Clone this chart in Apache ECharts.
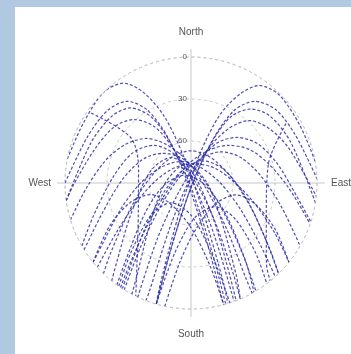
<!DOCTYPE html>
<html>
<head>
<meta charset="utf-8">
<script src="https://cdn.jsdelivr.net/npm/echarts@6/dist/echarts.min.js"></script>
<style>
  html, body { margin: 0; padding: 0; width: 351px; height: 354px; background: #b0c9e0; overflow: hidden; }
  #chart { position: absolute; left: 15px; top: 7px; width: 336px; height: 347px; background: #ffffff; }
</style>
</head>
<body>
<div id="chart"></div>
<script>
// Sky plot: each pass is a list of [elevation (deg), azimuth (deg, clockwise from North)]
const directionLabels = { 0: 'North', 90: 'East', 180: 'South', 270: 'West' };
const elevationTicks = [0, 30, 60];

const pass01 = [[0,224],[14,229],[43,247],[61,279],[67,322],[67,0],[67,38],[61,82],[43,113],[14,131],[0,136]];
const pass02 = [[0,231],[12,235],[37,250],[54,270],[66,298],[73,335],[77,32],[69,90],[50,118],[23,132],[0,138]];
const pass03 = [[0,213],[41,224],[69,250],[79,330],[72,29],[65,66],[52,101],[27,125],[0,136]];
const pass04 = [[0,228],[25,236],[47,249],[64,272],[74,313],[76,12],[70,58],[59,89],[42,108],[20,121],[0,129]];
const pass05 = [[0,216],[17,220],[51,237],[71,266],[83,323],[80,98],[58,131],[22,145],[0,150]];
const pass06 = [[0,238],[24,252],[41,273],[52,297],[61,317],[72,342],[81,72],[60,131],[27,144],[0,149]];
const pass07 = [[0,212],[31,218],[63,233],[81,305],[71,22],[59,44],[50,63],[40,84],[24,104],[0,120]];
const pass08 = [[0,253],[15,267],[27,285],[36,301],[45,315],[57,327],[73,348],[79,108],[49,142],[12,150],[0,151]];
const pass09 = [[0,205],[43,211],[77,229],[75,17],[56,33],[44,45],[35,59],[27,77],[14,97],[0,108]];
const pass10 = [[0,240],[16,251],[34,274],[43,297],[52,315],[65,329],[86,18],[61,147],[19,155],[0,157]];
const pass11 = [[0,214],[17,217],[49,227],[74,257],[76,354],[63,29],[52,45],[42,60],[33,76],[20,93],[0,109]];
const pass12 = [[0,262],[6,269],[17,289],[22,306],[29,318],[42,327],[63,333],[87,124],[49,156],[0,160]];
const pass13 = [[0,201],[7,201],[53,205],[88,297],[62,27],[42,35],[29,43],[22,55],[16,70],[0,96]];
const pass14 = [[0,270],[9,294],[11,311],[16,322],[29,329],[52,333],[86,307],[46,165],[0,165]];
const pass15 = [[0,196],[51,197],[85,34],[52,27],[29,31],[16,38],[10,49],[8,65],[0,88]];
const pass16 = [[0,281],[2,299],[0,316],[4,326],[16,332],[38,338],[69,344],[68,157],[15,162],[0,163]];
const pass17 = [[0,80],[2,62],[1,45],[5,35],[17,29],[37,23],[68,17],[69,202],[16,197],[0,196]];
const pass18 = [[0,262],[13,292],[16,310],[21,321],[35,329],[58,333],[87,180],[41,163],[0,164]];
const pass19 = [[0,99],[13,68],[16,50],[22,39],[35,31],[58,27],[87,180],[41,197],[0,196]];
const pass20 = [[0,208],[12,210],[52,228],[72,272],[76,345],[79,86],[57,140],[16,154],[0,157]];
const pass21 = [[0,219],[12,223],[42,243],[60,287],[67,322],[81,0],[64,146],[28,156],[0,159]];
const pass22 = [[0,231],[24,242],[44,252],[60,254],[69,226],[59,181],[29,167],[0,165]];
const pass23 = [[0,192],[33,188],[56,175],[67,131],[57,105],[42,108],[21,119],[0,129]];
const pass24 = [[0,215],[25,221],[53,231],[70,225],[67,180],[39,164],[0,162]];
const pass25 = [[0,196],[39,193],[65,174],[66,135],[50,129],[23,137],[0,143]];
const pass26 = [[3,305],[36,307],[51,286],[47,241],[21,214],[0,206]];
const pass27 = [[10,58],[33,76],[32,112],[11,137],[0,141]];

const passes = [pass01, pass02, pass03, pass04, pass05, pass06, pass07, pass08, pass09, pass10,
  pass11, pass12, pass13, pass14, pass15, pass16, pass17, pass18, pass19, pass20, pass21,
  pass22, pass23, pass24, pass25, pass26, pass27];

const chart = echarts.init(document.getElementById('chart'), null, { renderer: 'canvas' });

const gridGray = '#c8c8c8';
const family = 'Liberation Sans, Arial, sans-serif';
const dirFont = { color: '#555', fontSize: 10, fontFamily: family };
const tickFont = { color: '#555', fontSize: 8, fontFamily: family };

chart.setOption({
  animation: false,
  polar: { center: [176, 176], radius: 126 },
  angleAxis: {
    type: 'value', min: 0, max: 360, interval: 90, startAngle: 90, clockwise: true,
    axisLine: { show: true, lineStyle: { color: gridGray, type: [3, 3], width: 1 } },
    axisTick: { show: true, inside: false, length: 8, lineStyle: { color: gridGray } },
    splitLine: { show: true, lineStyle: { color: gridGray, width: 1 } },
    axisLabel: {
      show: true, margin: 14, ...dirFont,
      formatter: v => {
        if (v === 0) return '{n|North}';
        if (v === 180) return '{s|South}';
        return directionLabels[v] || '';
      },
      rich: {
        n: { ...dirFont, padding: [0, 0, 6, 0] },
        s: { ...dirFont, padding: [6, 0, 0, 0] }
      }
    }
  },
  radiusAxis: {
    type: 'value', min: 0, max: 90, interval: 30, inverse: true,
    axisLine: { show: false },
    axisTick: { show: false },
    splitLine: { show: true, lineStyle: { color: gridGray, type: [3, 3], width: 1 } },
    axisLabel: {
      show: true, ...tickFont, margin: 4,
      formatter: v => elevationTicks.includes(v) ? String(v) : ''
    }
  },
  series: passes.map((p, i) => ({
    name: 'pass' + (i + 1),
    type: 'line',
    coordinateSystem: 'polar',
    data: p,
    smooth: 0.3,
    symbol: 'none',
    lineStyle: { color: '#2e2ea6', width: 1.2, type: [3, 2], opacity: 0.85 }
  }))
});
</script>
</body>
</html>
